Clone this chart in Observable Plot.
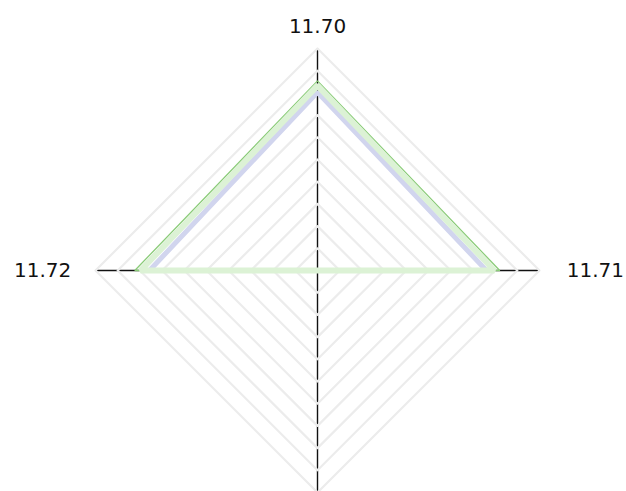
<!DOCTYPE html>
<html>
<head>
<meta charset="utf-8">
<script src="https://cdn.jsdelivr.net/npm/d3@7"></script>
<script src="https://cdn.jsdelivr.net/npm/@observablehq/plot@0.6"></script>
<style>
  html, body { margin: 0; padding: 0; background: #fff; }
  #chart svg { display: block; }
</style>
</head>
<body>
<div id="chart"></div>
<script>
// Axes clockwise from top
const axisLabels = ["11.70", "11.71", "", "11.72"];
// Series values (fraction of outer ring)
const outlineValues = [0.854, 0.821, 0, 0.823];
const greenValues = [0.833, 0.797, 0, 0.797];
const purpleValues = [0.803, 0.761, 0, 0.757];
// Grid ring levels
const ringLevels = [0.1, 0.2, 0.3, 0.4, 0.5, 0.6, 0.7, 0.8, 0.9, 1.0];

const n = axisLabels.length;
const ang = i => (i * 2 * Math.PI) / n;
const px = (r, i) => r * Math.sin(ang(i));
const py = (r, i) => r * Math.cos(ang(i));

const pts = (vals, name) => vals.map((v, i) => ({series: name, i, x: px(v, i), y: py(v, i)}));

const rings = ringLevels.flatMap(r => axisLabels.map((_, i) => ({ring: r, x: px(r, i), y: py(r, i)})));
const spokes = axisLabels.map((_, i) => ({x1: 0, y1: 0, x2: px(1, i), y2: py(1, i)}));
const labels = axisLabels.map((t, i) => ({t, i, x: px(1.1, i), y: py(1.1, i)}));

const chart = Plot.plot({
  width: 626,
  height: 491,
  margin: 0,
  x: {domain: [-1, 1], range: [317 - 222, 317 + 222], axis: null},
  y: {domain: [-1, 1], range: [270 + 222, 270 - 222], axis: null},
  style: {fontFamily: "'DejaVu Sans', Verdana, sans-serif", fontSize: "20px", background: "#fff"},
  marks: [
    Plot.link(spokes, {x1: "x1", y1: "y1", x2: "x2", y2: "y2", stroke: "#111", strokeWidth: 1.4}),
    Plot.line(rings, {x: "x", y: "y", z: "ring", curve: "linear-closed", stroke: "#ececec", strokeWidth: 2.2}),
    Plot.line(pts(outlineValues, "outline"), {x: "x", y: "y", curve: "linear-closed", stroke: "#8acb78", strokeWidth: 1.3, strokeLinejoin: "miter"}),
    Plot.line(pts(purpleValues, "purple"), {x: "x", y: "y", curve: "linear-closed", stroke: "#d1d5ee", strokeWidth: 5, strokeLinejoin: "miter"}),
    Plot.line(pts(greenValues, "green"), {x: "x", y: "y", curve: "linear-closed", stroke: "#dcf2d5", strokeWidth: 6, strokeLinejoin: "miter"}),
    Plot.text(labels.filter(d => d.i === 0), {x: "x", y: "y", text: "t", textAnchor: "middle", fill: "#111", fontSize: 20}),
    Plot.text(labels.filter(d => d.i === 1), {x: "x", y: "y", text: "t", textAnchor: "start", dx: 5, fill: "#111", fontSize: 20}),
    Plot.text(labels.filter(d => d.i === 3 && d.t), {x: "x", y: "y", text: "t", textAnchor: "end", dx: -2, fill: "#111", fontSize: 20})
  ]
});
document.getElementById("chart").appendChild(chart);
</script>
</body>
</html>
